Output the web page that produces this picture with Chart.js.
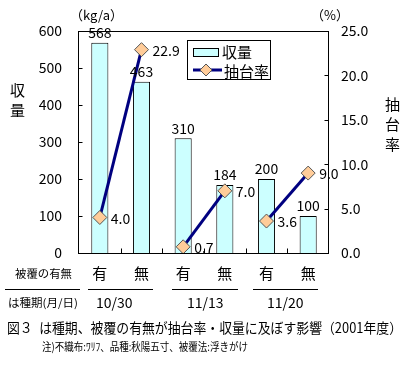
<!DOCTYPE html>
<html><head><meta charset="utf-8">
<script src="https://cdn.jsdelivr.net/npm/chart.js@4.4.0/dist/chart.umd.min.js"></script>
<style>
html,body{margin:0;padding:0;background:#fff;}
#wrap{position:relative;width:405px;height:370px;overflow:hidden;font-family:"Noto Sans CJK JP","Noto Sans",sans-serif;color:#000;}
#c{position:absolute;left:0;top:0;}
.t{position:absolute;white-space:nowrap;line-height:1;}
.fit{transform-origin:0 0;}
.hl{position:absolute;height:1px;background:#000;}
</style></head>
<body><div id="wrap">
<canvas id="c" width="405" height="370"></canvas>
<div class="t" style="left:70px;top:8px;font-size:13px;">（kg/a）</div>
<div class="t" style="left:311px;top:8px;font-size:13px;">（%）</div>
<div class="t" style="left:10px;top:80px;font-size:15px;width:16px;line-height:20px;">収<br>量</div>
<div class="t" style="left:385px;top:94px;font-size:15px;width:16px;line-height:20px;">抽<br>台<br>率</div>
<div class="t fit" data-w="57" style="left:15px;top:268px;font-size:11px;">被覆の有無</div>
<div class="hl" style="left:5px;top:289px;width:75px;"></div>
<div class="hl" style="left:88px;top:289px;width:65px;"></div>
<div class="hl" style="left:172px;top:289px;width:66px;"></div>
<div class="hl" style="left:253px;top:289px;width:65px;"></div>
<div class="t fit" data-w="70" style="left:8px;top:297px;font-size:11px;">は種期(月/日)</div>
<div class="t" id="d1" style="left:96px;top:295px;font-size:14px;"></div>
<div class="t" id="d2" style="left:187px;top:295px;font-size:14px;"></div>
<div class="t" id="d3" style="left:267px;top:295px;font-size:14px;"></div>
<div class="t fit" data-w="395" style="left:7px;top:320px;font-size:14px;">図３&#8194;は種期、被覆の有無が抽台率・収量に及ぼす影響（2001年度）</div>
<div class="t fit" data-w="206" style="left:42px;top:341px;font-size:11px;">注)不織布:ﾜﾘﾌ、品種:秋陽五寸、被覆法:浮きがけ</div>
</div>
<script>
const categories = ['有','無','有','無','有','無'];
const sowingDates = ['10/30','11/13','11/20'];
const yieldValues = [568, 463, 310, 184, 200, 100];
const boltingRate = [4.0, 22.9, 0.7, 7.0, 3.6, 9.0];
const yieldTicks = [0,100,200,300,400,500,600];
const rateTicks = [0,5,10,15,20,25];

document.getElementById('d1').textContent = sowingDates[0];
document.getElementById('d2').textContent = sowingDates[1];
document.getElementById('d3').textContent = sowingDates[2];
document.querySelectorAll('.fit').forEach(el => {
  const w = el.getBoundingClientRect().width;
  const target = parseFloat(el.dataset.w);
  if (w > 0) el.style.transform = 'scaleX(' + (target / w) + ')';
});

const NAVY = '#000080';
const FONT = '"Noto Sans CJK JP","Noto Sans",sans-serif';

const framePlugin = {
  id: 'frame',
  afterDatasetsDraw(chart) {
    const ctx = chart.ctx, a = chart.chartArea;
    const sy = chart.scales.y, sy1 = chart.scales.y1, sx = chart.scales.x;
    ctx.save();
    ctx.fillStyle = '#000';
    ctx.font = '14px ' + FONT;
    const mb = chart.getDatasetMeta(0);
    ctx.textAlign = 'center'; ctx.textBaseline = 'bottom';
    mb.data.forEach((el, i) => {
      ctx.fillText(String(yieldValues[i]), el.x, el.y - 3);
    });
    const ml = chart.getDatasetMeta(1);
    ctx.textAlign = 'left'; ctx.textBaseline = 'middle';
    ml.data.forEach((el, i) => {
      ctx.fillText(boltingRate[i].toFixed(1), el.x + 11, el.y + 1);
    });
    ctx.strokeStyle = '#000'; ctx.lineWidth = 1;
    const L = Math.round(a.left) - 0.5, R = Math.round(a.right) - 0.5;
    const T = Math.round(a.top) + 0.5, B = Math.round(a.bottom) + 0.5;
    ctx.strokeRect(L, T, R - L, B - T);
    ctx.beginPath();
    yieldTicks.forEach(v => { const y = Math.round(sy.getPixelForValue(v)) + 0.5; ctx.moveTo(L, y); ctx.lineTo(L + 4, y); });
    rateTicks.forEach(v => { const y = Math.round(sy1.getPixelForValue(v)) + 0.5; ctx.moveTo(R, y); ctx.lineTo(R - 4, y); });
    const n = categories.length;
    for (let i = 1; i < n; i++) {
      const x = Math.round((sx.getPixelForValue(i - 1) + sx.getPixelForValue(i)) / 2) + 0.5;
      ctx.moveTo(x, B); ctx.lineTo(x, B - 5);
    }
    ctx.stroke();
    const lx = 187.5, ly = 40.5, lw = 83, lh = 39;
    ctx.fillStyle = '#fff';
    ctx.fillRect(lx, ly, lw, lh);
    ctx.strokeRect(lx, ly, lw, lh);
    ctx.fillStyle = '#CCFFFF';
    ctx.fillRect(193.5, 48.5, 25, 8);
    ctx.strokeRect(193.5, 48.5, 25, 8);
    ctx.strokeStyle = NAVY; ctx.lineWidth = 3;
    ctx.beginPath(); ctx.moveTo(193, 70); ctx.lineTo(222, 70); ctx.stroke();
    ctx.fillStyle = '#FFCC99'; ctx.strokeStyle = '#555'; ctx.lineWidth = 1;
    ctx.beginPath(); ctx.moveTo(206, 64); ctx.lineTo(212, 70); ctx.lineTo(206, 76); ctx.lineTo(200, 70); ctx.closePath();
    ctx.fill(); ctx.stroke();
    ctx.fillStyle = '#000'; ctx.font = '15px ' + FONT;
    ctx.textAlign = 'left'; ctx.textBaseline = 'middle';
    ctx.fillText('収量', 222, 52);
    ctx.fillText('抽台率', 224, 71);
    ctx.restore();
  }
};

new Chart(document.getElementById('c'), {
  data: {
    labels: categories,
    datasets: [
      {
        type: 'bar', label: '収量', data: yieldValues, yAxisID: 'y', order: 2,
        backgroundColor: '#CCFFFF', borderColor: '#000', borderWidth: 1,
        barPercentage: 0.41, categoryPercentage: 1
      },
      {
        type: 'line', label: '抽台率', data: boltingRate, yAxisID: 'y1', order: 1,
        borderColor: NAVY, borderWidth: 3, tension: 0,
        pointStyle: 'rectRot', pointRadius: 7, pointBackgroundColor: '#FFCC99',
        pointBorderColor: '#555', pointBorderWidth: 1,
        segment: { borderColor: c => (c.p0DataIndex % 2 === 1 ? 'rgba(0,0,0,0)' : NAVY) }
      }
    ]
  },
  options: {
    responsive: false, animation: false, devicePixelRatio: 1,
    layout: { padding: { top: 31, bottom: 87, left: 0, right: 0 } },
    plugins: { legend: { display: false }, tooltip: { enabled: false } },
    scales: {
      x: {
        grid: { display: false, drawTicks: false }, border: { display: false },
        ticks: { color: '#000', font: { family: FONT, size: 15 }, padding: 11, maxRotation: 0 },
        afterFit(s) { s.height = 30; }
      },
      y: {
        position: 'left', min: 0, max: 600,
        grid: { display: false, drawTicks: false }, border: { display: false },
        ticks: { stepSize: 100, color: '#000', font: { family: FONT, size: 14 }, padding: 17 },
        afterFit(s) { s.width = 79; }
      },
      y1: {
        position: 'right', min: 0, max: 25,
        grid: { display: false, drawTicks: false }, border: { display: false },
        ticks: { stepSize: 5, color: '#000', font: { family: FONT, size: 14 }, padding: 12,
          callback: v => Number(v).toFixed(1) },
        afterFit(s) { s.width = 76; }
      }
    }
  },
  plugins: [framePlugin]
});
</script>
</body></html>
